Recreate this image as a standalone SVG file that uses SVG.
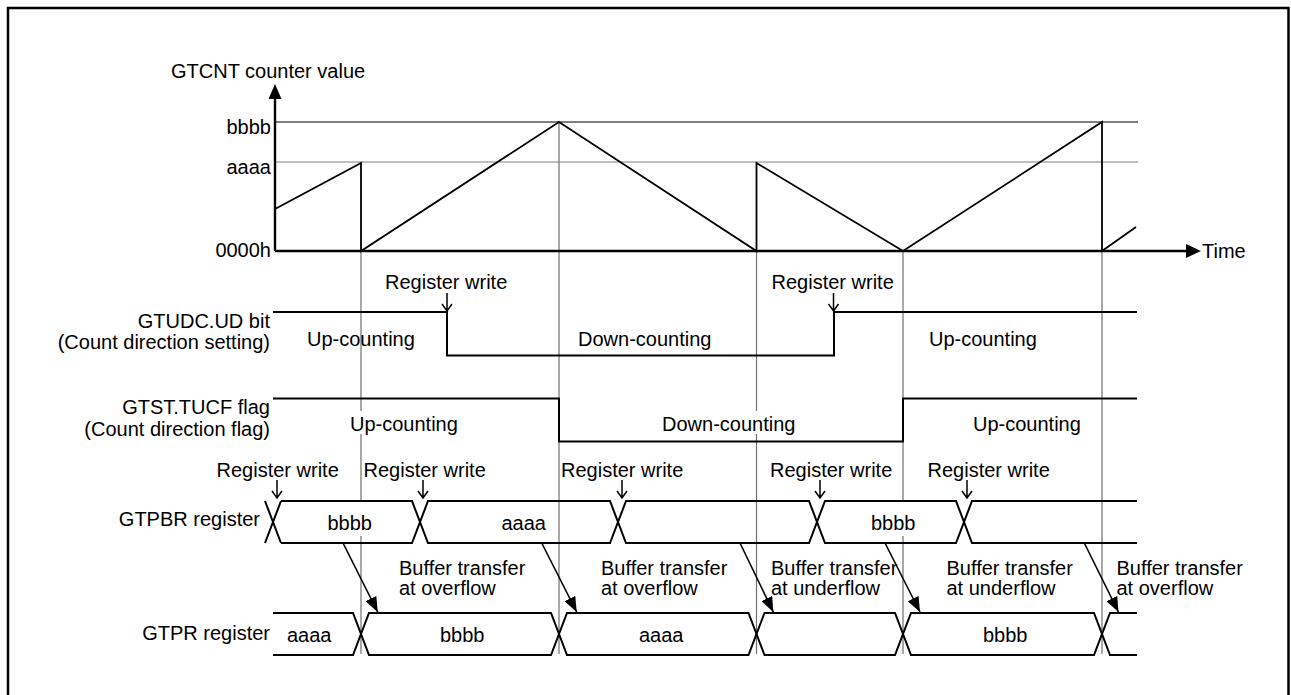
<svg xmlns="http://www.w3.org/2000/svg" width="1291" height="695" viewBox="0 0 1291 695">
<style>
text { font-family: "Liberation Sans", Arial, Helvetica, sans-serif; font-size: 20px; fill: #000; }
.end { text-anchor: end; }
.wave { fill: none; stroke: #000; stroke-width: 2; stroke-linejoin: miter; }
.cnt { fill: none; stroke: #000; stroke-width: 1.8; stroke-linejoin: miter; }
.grid { stroke: #707070; stroke-width: 1.2; fill: none; }
.refb { stroke: #000; stroke-width: 1.2; fill: none; }
.refg { stroke: #808080; stroke-width: 1.2; fill: none; }
.xfer { stroke: #000; stroke-width: 1.6; fill: none; marker-end: url(#fa); }
.wr { stroke: #000; stroke-width: 1.5; fill: none; }
.bg { fill: #fff; }
.axis { stroke: #000; stroke-width: 2.4; fill: none; }
</style>
<defs>
<marker id="fa" markerUnits="userSpaceOnUse" markerWidth="16" markerHeight="12" refX="15" refY="6" orient="auto">
<path d="M0,0 L15,6 L0,12 z" fill="#000"/>
</marker>
<path id="wa" class="wr" d="M0,-18 V0 M-5,-7 L0,0 L5,-7"/>
</defs>

<rect width="1291" height="695" fill="#fff"/>
<path id="frame" d="M8,695 V8 H1288.5 V695" fill="none" stroke="#000" stroke-width="2.5"/>

<g id="grid-lines">
<path class="grid" d="M361,251 V654 M559,122 V654 M756.5,251 V654 M903,251 V654 M1102,251 V654"/>
</g>

<g id="counter-graph">
<path class="refb" d="M275,122 H1138"/>
<path class="refg" d="M275,162 H1138"/>
<path class="axis" d="M275,251 V97 M275,251 H1187"/>
<polygon points="275,84 268.5,99 281.5,99" fill="#000"/>
<polygon points="1201,251 1186,244 1186,258" fill="#000"/>
<path class="cnt" d="M275,209 L361,163 V251 L559,122 L756.5,251 V163 L903,251 L1102,122 V251 L1136,227"/>
<text x="171" y="78">GTCNT counter value</text>
<text class="end" x="271" y="133.5">bbbb</text>
<text class="end" x="271" y="174">aaaa</text>
<text class="end" x="271" y="257">0000h</text>
<text x="1202" y="258">Time</text>
</g>

<g id="gtudc">
<path class="wave" d="M273,312 H447 V355.5 H834 V312 H1137"/>
<text class="end" x="270" y="327.5">GTUDC.UD bit</text>
<text class="end" x="270" y="349">(Count direction setting)</text>
<text x="307" y="345.5">Up-counting</text>
<text x="578" y="345.5">Down-counting</text>
<text x="929" y="345.5">Up-counting</text>
<text x="385" y="289">Register write</text>
<use href="#wa" x="447" y="311"/>
<text x="771.5" y="289">Register write</text>
<use href="#wa" x="833.5" y="311"/>
</g>

<g id="gtst">
<path class="wave" d="M273,398.5 H559 V441.5 H903 V398.5 H1137"/>
<text class="end" x="270" y="414">GTST.TUCF flag</text>
<text class="end" x="270" y="436">(Count direction flag)</text>
<rect class="bg" x="348" y="411" width="112" height="23"/>
<text x="350" y="431">Up-counting</text>
<rect class="bg" x="660" y="411" width="137" height="23"/>
<text x="662" y="431">Down-counting</text>
<text x="973" y="431">Up-counting</text>
</g>

<g id="gtpbr">
<path class="wave" d="M265,501 L281,543 M265,543 L281,501"/>
<path class="wave" d="M281,501 H412 L428,543 H610 L626,501 H809 L825,543 H956 L972,501 H1137"/>
<path class="wave" d="M281,543 H412 L428,501 H610 L626,543 H809 L825,501 H956 L972,543 H1137"/>
<text class="end" x="260" y="526">GTPBR register</text>
<rect class="bg" x="325" y="502" width="49" height="34"/>
<text x="327.5" y="530">bbbb</text>
<text x="501.5" y="530">aaaa</text>
<rect class="bg" x="869" y="502" width="48" height="34"/>
<text x="871" y="530">bbbb</text>
<text x="216.5" y="476.5">Register write</text>
<use href="#wa" x="277" y="498"/>
<text x="363.5" y="476.5">Register write</text>
<use href="#wa" x="423" y="498"/>
<text x="561" y="476.5">Register write</text>
<use href="#wa" x="622" y="498"/>
<text x="770" y="476.5">Register write</text>
<use href="#wa" x="820" y="498"/>
<text x="927.5" y="476.5">Register write</text>
<use href="#wa" x="967" y="498"/>
</g>

<g id="gtpr">
<path class="wave" d="M273,613 H353 L369,655 H551 L567,613 H748.5 L764.5,655 H895 L911,613 H1094 L1110,655 H1137"/>
<path class="wave" d="M273,655 H353 L369,613 H551 L567,655 H748.5 L764.5,613 H895 L911,655 H1094 L1110,613 H1137"/>
<text class="end" x="270" y="640">GTPR register</text>
<text x="287" y="642">aaaa</text>
<text x="440" y="642">bbbb</text>
<text x="639" y="642">aaaa</text>
<text x="983" y="642">bbbb</text>
</g>

<g id="transfer-labels">
<text x="399" y="575">Buffer transfer</text>
<text x="399" y="594.5">at overflow</text>
<text x="601" y="575">Buffer transfer</text>
<text x="601" y="594.5">at overflow</text>
<text x="771" y="575">Buffer transfer</text>
<text x="771" y="594.5">at underflow</text>
<text x="946.5" y="575">Buffer transfer</text>
<text x="946.5" y="594.5">at underflow</text>
<text x="1116.5" y="575">Buffer transfer</text>
<text x="1116.5" y="594.5">at overflow</text>
</g>

<g id="connectors">
<path class="xfer" d="M343,543 L377.7,612"/>
<path class="xfer" d="M541.7,543 L576.7,612"/>
<path class="xfer" d="M740,543 L773.3,612"/>
<path class="xfer" d="M885,543 L920,612"/>
<path class="xfer" d="M1084.3,543 L1118.5,612"/>
</g>
</svg>
